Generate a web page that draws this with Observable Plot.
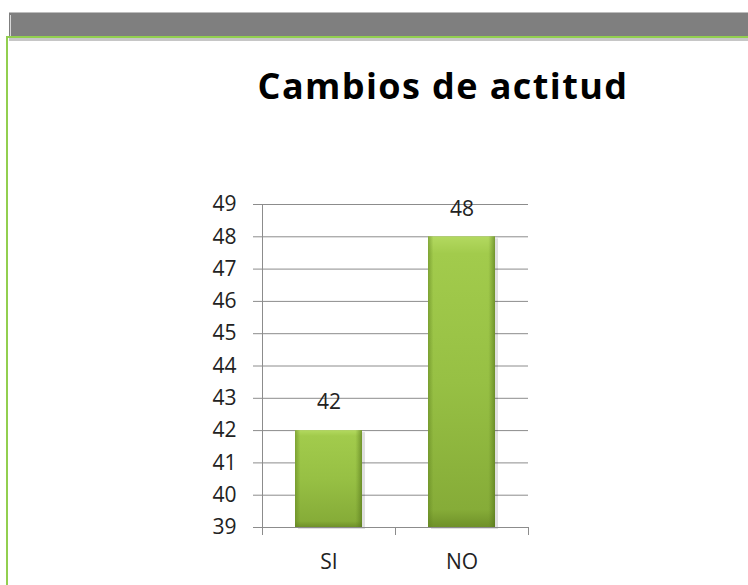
<!DOCTYPE html>
<html>
<head>
<meta charset="utf-8">
<script src="https://cdn.jsdelivr.net/npm/d3@7"></script>
<script src="https://cdn.jsdelivr.net/npm/@observablehq/plot@0.6"></script>
<style>
  html, body { margin: 0; padding: 0; background: #fff; }
  #page { position: relative; width: 748px; height: 585px; overflow: hidden; background: #fff; }
  .band { position: absolute; left: 9px; top: 12px; width: 739px; height: 29px; background: #7f7f7f; border-top: 1px solid #bdbdbd; box-sizing: border-box; }
  .band-low { position: absolute; left: 9px; top: 38px; width: 739px; height: 3px; background: #c6c6c6; }
  .band-hl { position: absolute; left: 10px; top: 15px; width: 1px; height: 23px; background: #d8d8d8; }
  .green-h { position: absolute; left: 6px; top: 36px; width: 742px; height: 2px; background: #92cf4f; }
  .green-v { position: absolute; left: 6px; top: 36px; width: 2px; height: 549px; background: #92cf4f; }
  #title { position: absolute; left: 0; top: 61px; width: 886px; text-align: center; font-family: "Open Sans", sans-serif; font-weight: 700; font-size: 36px; color: #000; letter-spacing: 1.4px; }
  #chart { position: absolute; left: 0; top: 140px; }
</style>
</head>
<body>
<div id="page">
  <div class="band"></div>
  <div class="band-low"></div>
  <div class="band-hl"></div>
  <div class="green-h"></div>
  <div class="green-v"></div>
  <div id="title">Cambios de actitud</div>
  <div id="chart"></div>
</div>
<script>
const categories = ["SI", "NO"];
const values = [42, 48];
const yTicks = [39, 40, 41, 42, 43, 44, 45, 46, 47, 48, 49];

const data = categories.map((c, i) => ({ cat: c, value: values[i] }));

const fontFamily = "'Open Sans', sans-serif";

// Boundary ticks at the edges of each category band (drawn through the band scale)
function boundaryTicks() {
  return (index, scales, values, dims, context) => {
    const x = scales.x;
    const bw = x.bandwidth();
    const step = x.step ? x.step() : bw * 2;
    const gap = (step - bw) / 2;
    const y0 = dims.height - dims.marginBottom;
    const xs = new Set();
    for (const c of categories) {
      xs.add(Math.round(x(c) - gap));
      xs.add(Math.round(x(c) + bw + gap));
    }
    const g = d3.create("svg:g");
    for (const px of xs) {
      g.append("line")
        .attr("x1", px + 0.5).attr("x2", px + 0.5)
        .attr("y1", y0).attr("y2", y0 + 8)
        .attr("stroke", "#8c8c8c").attr("stroke-width", 1);
    }
    return g.node();
  };
}

const chart = Plot.plot({
  width: 748,
  height: 445,
  marginLeft: 262,
  marginRight: 220,
  marginTop: 64,
  marginBottom: 58,
  style: { fontFamily, background: "transparent", overflow: "visible" },
  x: { domain: categories, paddingInner: 0.5, paddingOuter: 0.25, label: null },
  y: { domain: [39, 49], label: null },
  marks: [
    Plot.gridY(yTicks, { stroke: "#8c8c8c", strokeOpacity: 1 }),
    Plot.axisY(yTicks, {
      tickSize: 9, stroke: "#8c8c8c", tickPadding: 17,
      fontSize: 21, fill: "#222", label: null
    }),
    Plot.axisX({ tickSize: 0, tickPadding: 27, fontSize: 21, fill: "#222", label: null }),
    // shadow
    Plot.barY(data, { x: "cat", y1: 39, y2: "value", fill: "#000", fillOpacity: 0.12, dx: 3, dy: 2 }),
    Plot.barY(data, { x: "cat", y1: 39, y2: "value", fill: "url(#barV)" }),
    Plot.barY(data, { x: "cat", y1: 39, y2: "value", fill: "url(#barH)" }),
    Plot.ruleY([39], { stroke: "#8c8c8c" }),
    Plot.frame({ anchor: "left", stroke: "#8c8c8c" }),
    boundaryTicks(),
    Plot.text(data, {
      x: "cat", y: "value", text: d => String(d.value),
      dy: -28, fontSize: 21, fill: "#222"
    })
  ]
});

const defs = d3.select(chart).insert("defs", ":first-child");
const gv = defs.append("linearGradient").attr("id", "barV").attr("x1", 0).attr("x2", 0).attr("y1", 0).attr("y2", 1);
gv.append("stop").attr("offset", "0%").attr("stop-color", "#b3d960");
gv.append("stop").attr("offset", "6%").attr("stop-color", "#a2cb4c");
gv.append("stop").attr("offset", "50%").attr("stop-color", "#97c044");
gv.append("stop").attr("offset", "94%").attr("stop-color", "#86ac38");
gv.append("stop").attr("offset", "100%").attr("stop-color", "#6f9129");
const gh = defs.append("linearGradient").attr("id", "barH").attr("x1", 0).attr("x2", 1).attr("y1", 0).attr("y2", 0);
gh.append("stop").attr("offset", "0%").attr("stop-color", "#5f8220").attr("stop-opacity", 0.55);
gh.append("stop").attr("offset", "8%").attr("stop-color", "#5f8220").attr("stop-opacity", 0.0);
gh.append("stop").attr("offset", "90%").attr("stop-color", "#5f8220").attr("stop-opacity", 0.0);
gh.append("stop").attr("offset", "100%").attr("stop-color", "#4f6e18").attr("stop-opacity", 0.6);

document.getElementById("chart").appendChild(chart);
</script>
</body>
</html>
